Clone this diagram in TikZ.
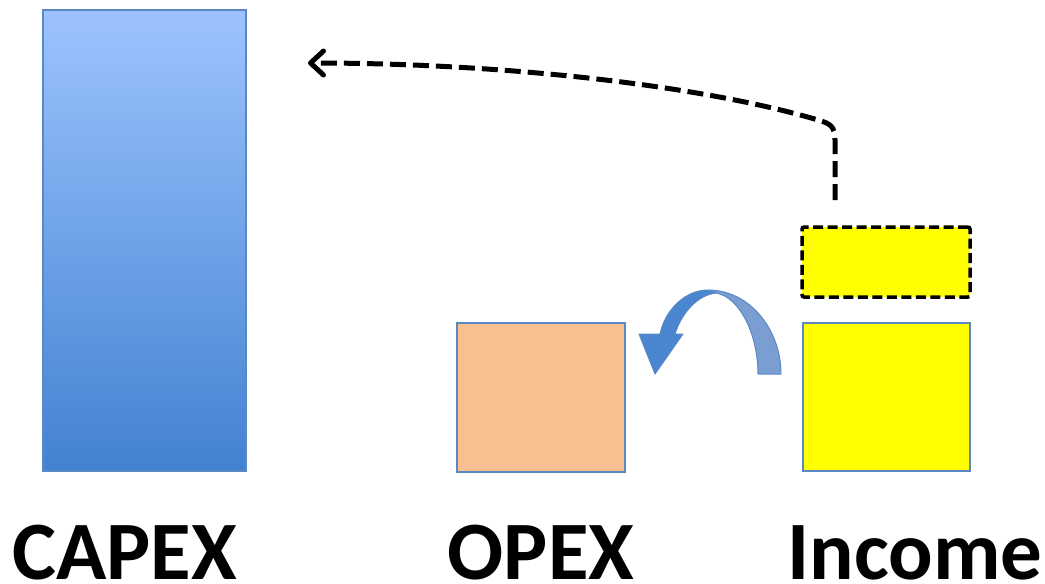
\documentclass[tikz,border=0pt]{standalone}
\usepackage{fontspec}
\setmainfont{Carlito}
\usetikzlibrary{arrows.meta}
\definecolor{edgeblue}{HTML}{5A88C4}
\definecolor{captop}{HTML}{9DC3FF}
\definecolor{capbot}{HTML}{4282D0}
\definecolor{opexfill}{HTML}{F8C091}
\definecolor{incfill}{HTML}{FFFF00}
\definecolor{arrowdark}{HTML}{4A86D0}
\definecolor{arrowlight}{HTML}{7A9DD2}
\begin{document}
\begin{tikzpicture}[x=1pt,y=-1pt,
  bar/.style={draw=edgeblue, line width=2pt, inner sep=0pt, outer sep=0pt},
  lbl/.style={font=\bfseries\fontsize{83}{90}\selectfont, anchor=base, inner sep=0pt},
  bentarrow/.style={draw=edgeblue, line width=1pt, line join=round}]
\useasboundingbox (0,0) rectangle (1045,584);
\fill[white] (0,0) rectangle (1045,584);
% bars
\node[bar, top color=captop, bottom color=capbot, minimum width=203pt, minimum height=461pt] (capex) at (144.5,240.5) {};
\node[bar, fill=opexfill, minimum width=168pt, minimum height=149pt] (opex) at (541,397.5) {};
\node[bar, fill=incfill, minimum width=167pt, minimum height=148pt] (income) at (886.5,397) {};
\node[draw=black, fill=incfill, line width=3.5pt, dash pattern=on 10pt off 4.5pt, rounded corners=2pt,
      inner sep=0pt, outer sep=0pt, minimum width=168pt, minimum height=70pt] (extra) at (886,262) {};
% labels
\node[lbl] (capexlbl) at (124.5,579) {CAPEX};
\node[lbl] (opexlbl) at (541,579) {OPEX};
\node[lbl] (incomelbl) at (915,579) {Income};
% dashed arrow
\coordinate (dstart) at (835,200);
\coordinate (dend) at (308,63);
\draw[line width=5pt, dash pattern=on 16pt off 7pt, -{Straight Barb[length=13pt,width=24pt,line cap=round,line join=round]}]
  (dstart) -- (835,140) .. controls (835,126) and (830,123.5) .. (818,120)
  .. controls (700,85) and (500,63) .. (dend);
% curved blue arrow
\path[bentarrow, fill=arrowlight] (708,290) .. controls (750,290) and (781,330) .. (781,374)
  -- (758,374) .. controls (758,335) and (740,297) .. (716,293) -- cycle;
\path[bentarrow, fill=arrowdark] (708,290) .. controls (685,290) and (665,310) .. (660,334)
  -- (639,334) -- (655,374) -- (683,334) -- (675,334)
  .. controls (682,312) and (698,295) .. (716,293) -- cycle;
\end{tikzpicture}
\end{document}
